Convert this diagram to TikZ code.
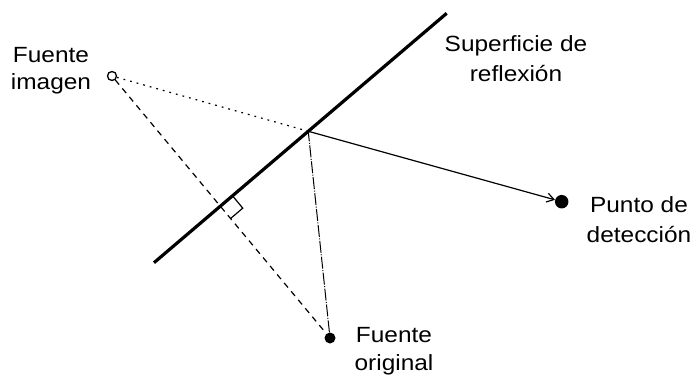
\documentclass[tikz,border=0pt]{standalone}
\usepackage{fontspec}
\setmainfont{Liberation Sans}[FakeStretch=1.11]
\usetikzlibrary{calc,arrows.meta}
\begin{document}
\begin{tikzpicture}[x=1pt,y=-1pt,
  lbl/.style={align=center,inner sep=0pt,anchor=base,font=\fontsize{22}{30}\selectfont},
  fdot/.style={circle,fill=black,inner sep=0pt,minimum size=#1},
  odot/.style={circle,draw=black,line width=1.3pt,fill=white,inner sep=0pt,minimum size=#1},
  thin line/.style={line width=1.2pt},
  surface/.style={line width=3.2pt},
  imgray/.style={thin line,dash pattern=on 1.8pt off 5pt},
  perp/.style={thin line,dash pattern=on 6pt off 5pt},
  realray/.style={line width=1pt,dash pattern=on 12pt off 1.5pt on 1pt off 1.5pt},
  outray/.style={thin line,-{Straight Barb[length=7pt,width=9pt,line width=1.2pt]}}
]
\useasboundingbox (0,0) rectangle (693,375);
\clip (0,0) rectangle (693,375);

% surface
\coordinate (S1) at (154,262.7);
\coordinate (S2) at (446.7,13.3);
\draw[surface] (S1) -- (S2);
\coordinate (R) at ($(S1)!0.527!(S2)$);

% points
\node[odot=9pt] (I) at (112,76) {};
\node[fdot=11pt] (O) at (330,338) {};
\node[fdot=13.5pt] (D) at (561.7,201.7) {};

% rays
\draw[imgray] (I) -- (R);
\draw[perp] (I) -- (O);
\draw[realray] (O) -- (R);
\draw[outray] (R) -- (D);

% right angle marker
\coordinate (F) at (intersection of I.center--O.center and S1--S2);
\coordinate (A) at ($(F)!16pt!(S2)$);
\coordinate (B) at ($(F)!16pt!(O.center)$);
\draw[thin line] (A) -- ($(A)+(B)-(F)$) -- (B);

% labels (base anchor = baseline of the last line)
\node[lbl,font=\fontsize{22}{27}\selectfont] (Limg) at (51,89) {Fuente\\imagen};
\node[lbl] (Lsurf) at (516,81.7) {Superficie de\\reflexión};
\node[lbl] (Ldet) at (639,242) {Punto de\\detección};
\node[lbl,font=\fontsize{22}{28}\selectfont] (Lorig) at (394,370) {Fuente\\original};
\end{tikzpicture}
\end{document}
